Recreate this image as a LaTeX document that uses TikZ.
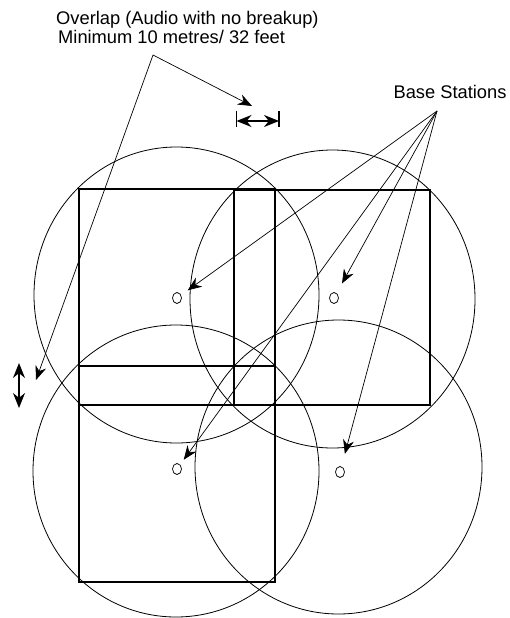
\documentclass[tikz,border=0pt]{standalone}
\usepackage{fontspec}
\setmainfont{Liberation Sans}
\usetikzlibrary{arrows.meta,shapes.geometric,positioning}

\begin{document}
\begin{tikzpicture}[x=1pt,y=-1pt,
    zone/.style={line width=0.8pt},
    room/.style={line width=1.6pt},
    station/.style={draw,ellipse,line width=0.7pt,minimum width=9pt,
                    minimum height=11pt,inner sep=0pt},
    note/.style={font=\fontsize{18.3}{19.5}\selectfont,inner sep=0pt},
    arr/.style={-{Stealth[length=14pt,width=11pt]},line width=0.7pt},
    dim/.style={{Stealth[length=15pt,width=12pt]}-{Stealth[length=15pt,width=12pt]},
                line width=1.4pt},
  ]
    \useasboundingbox (0,0) rectangle (510,618);
    % coverage zones
    \draw[zone] (176.5,295) ellipse [x radius=142.5pt, y radius=148pt];
    \draw[zone] (332.5,299) ellipse [x radius=142.5pt, y radius=149pt];
    \draw[zone] (176,471) ellipse [x radius=143pt, y radius=146pt];
    \draw[zone] (338.5,467) ellipse [x radius=143.5pt, y radius=147pt];
    % rooms
    \draw[room] (79,189) rectangle (275,405);
    \draw[room] (234,190) rectangle (430,405);
    \draw[room] (79,366) rectangle (275,582);
    % base stations
    \node[station](bsTL) at (177,298){};
    \node[station](bsTR) at (334,298){};
    \node[station](bsBL) at (177,469){};
    \node[station](bsBR) at (340,472){};
    % labels
    \node[note,align=left,anchor=north west](overlap) at (56,11){%
      Overlap (Audio with no breakup)\\\hspace*{2pt}Minimum 10 metres/ 32 feet};
    \node[note,anchor=base](bases) at (450,98){Base Stations};
    % overlap markers
    \coordinate (ovL) at (236.5,121);
    \coordinate (ovR) at (279,121);
    \coordinate (ovU) at (19,363);
    \coordinate (ovD) at (19,408);
    \draw[room] ([yshift=10pt]ovL) -- ([yshift=-6pt]ovL);
    \draw[room] ([yshift=10pt]ovR) -- ([yshift=-6pt]ovR);
    \draw[dim](ovL)--(ovR);
    \draw[dim](ovU)--(ovD);
    % leaders
    \coordinate (ovSrc) at (153,55);
    \coordinate (ovTop) at (252,106);
    \coordinate (ovSide) at (36,380);
    \draw[arr](ovSrc)--(ovTop); \draw[arr](ovSrc)--(ovSide);
    \coordinate (bsSrc) at (437,111);
    \draw[arr,shorten >=8pt](bsSrc)--(bsTL);
    \draw[arr,shorten >=11pt](bsSrc)--(bsTR);
    \draw[arr,shorten >=6pt](bsSrc)--(bsBL);
    \draw[arr,shorten >=13pt](bsSrc)--(bsBR);
  \end{tikzpicture}
\end{document}
